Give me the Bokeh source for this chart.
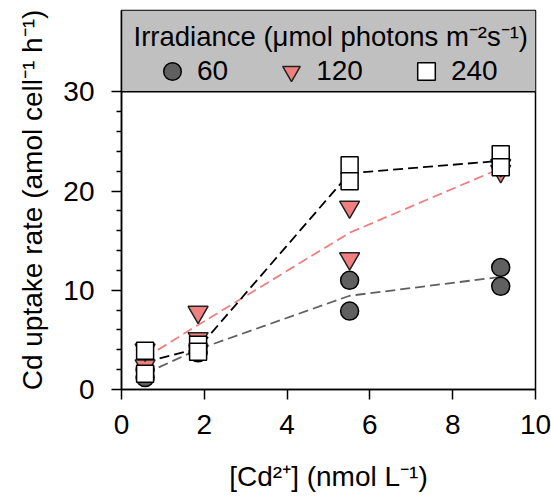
from bokeh.plotting import figure
from bokeh.models import Range1d, FixedTicker, BoxAnnotation, Span, Legend, LegendItem, Label
from bokeh.embed import file_html
from bokeh.resources import INLINE

# ---- data ----
conc = [0.57, 1.85, 5.51, 9.16]                      # [Cd2+] nmol/L
x_rep = [0.57, 0.57, 1.85, 1.85, 5.51, 5.51, 9.16, 9.16]
rate_60 = [1.2, 2.0, 3.7, 4.4, 11.0, 7.9, 12.3, 10.4]
rate_120 = [2.4, 4.0, 7.8, 5.15, 18.4, 13.2, 22.0, 22.6]
rate_240 = [3.9, 1.6, 4.5, 3.8, 22.6, 21.0, 23.7, 22.4]
line_60 = [1.6, 4.05, 9.45, 11.35]
line_120 = [3.2, 6.5, 15.8, 22.3]
line_240 = [2.75, 4.15, 21.8, 23.05]
series_labels = ["60", "120", "240"]
x_ticks = [0, 2, 4, 6, 8, 10]
y_ticks = [0, 10, 20, 30]
y_minor = [2, 4, 6, 8, 12, 14, 16, 18, 22, 24, 26, 28]

FONT = "Liberation Sans"
FS = "28px"
GRAY = "#606060"
PINK = "#f08080"

p = figure(width=551, height=500, x_range=Range1d(0, 10), y_range=Range1d(0, 38.2),
           output_backend="svg", toolbar_location=None,
           min_border_left=121, min_border_right=16, min_border_top=10, min_border_bottom=111)
p.grid.visible = False
p.outline_line_color = "black"
p.outline_line_width = 1.5
p.background_fill_color = "white"
p.border_fill_color = "white"

# legend box region (above y=30)
p.add_layout(BoxAnnotation(left=0, right=10, bottom=30, top=38.2, fill_color="#c0c0c0",
                           fill_alpha=1.0, line_color=None, level="underlay"))
p.add_layout(Span(location=30, dimension="width", line_color="black", line_width=1.5))

# axes
for ax in (p.xaxis[0], p.yaxis[0]):
    ax.axis_line_width = 1.5
    ax.major_tick_line_width = 1.5
    ax.minor_tick_line_width = 1.5
    ax.major_tick_in = 0
    ax.major_tick_out = 10
    ax.minor_tick_in = 0
    ax.minor_tick_out = 5
    ax.major_label_text_font = FONT
    ax.major_label_text_font_size = FS
    ax.major_label_text_color = "black"
    ax.axis_label_text_font = FONT
    ax.axis_label_text_font_size = FS
    ax.axis_label_text_font_style = "normal"
    ax.axis_label_text_color = "black"

p.xaxis.ticker = FixedTicker(ticks=x_ticks, minor_ticks=[])
p.xaxis.minor_tick_line_color = None
p.yaxis.ticker = FixedTicker(ticks=y_ticks, minor_ticks=y_minor)
p.xaxis.axis_label = "[Cd²⁺] (nmol L⁻¹)"
p.yaxis.axis_label = "Cd uptake rate (amol cell⁻¹ h⁻¹)"
p.xaxis.major_label_standoff = 15
p.yaxis.major_label_standoff = 17
p.xaxis.axis_label_standoff = 24
p.yaxis.axis_label_standoff = 12

# mean lines
p.line(conc, line_60, line_color=GRAY, line_width=1.8, line_dash="10 5")
p.line(conc, line_120, line_color=PINK, line_width=1.8, line_dash="10 5")
p.line(conc, line_240, line_color="black", line_width=1.8, line_dash="10 5")

# replicate points
r60 = p.scatter(x_rep, rate_60, marker="circle", size=18, fill_color=GRAY,
                line_color="black", line_width=1.5)
r120 = p.scatter(x_rep, rate_120, marker="inverted_triangle", size=20, fill_color=PINK,
                 line_color="#222222", line_width=1.5)
r240 = p.scatter(x_rep, rate_240, marker="square", size=17, fill_color="white",
                 line_color="black", line_width=1.5)

legend = Legend(items=[LegendItem(label=series_labels[0], renderers=[r60]),
                       LegendItem(label=series_labels[1], renderers=[r120]),
                       LegendItem(label=series_labels[2], renderers=[r240])],
                orientation="horizontal", location=(29, 296.5),
                glyph_width=44, glyph_height=44, label_standoff=3, spacing=41,
                padding=0, margin=0, border_line_color=None, background_fill_alpha=0,
                label_text_font=FONT, label_text_font_size=FS, label_text_color="black")
p.add_layout(legend)

p.add_layout(Label(x=0.29, y=35.6, text="Irradiance (μmol photons m⁻²s⁻¹)",
                   text_font=FONT, text_font_size="27.5px", text_baseline="alphabetic",
                   text_color="black"))

open("out.html", "w").write(file_html(p, INLINE))
